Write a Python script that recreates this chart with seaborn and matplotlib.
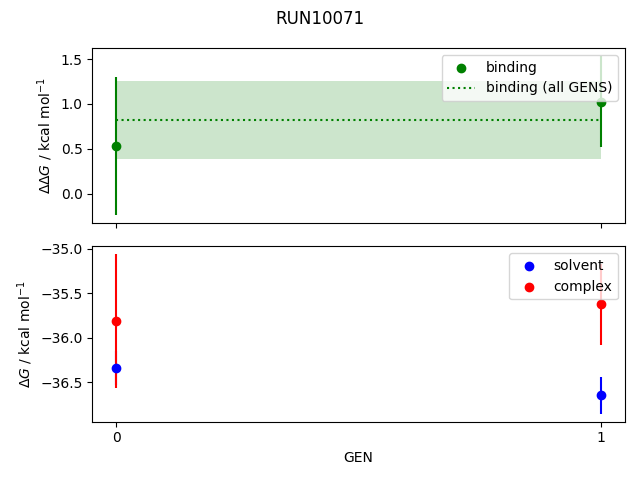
import numpy as np
import pandas as pd
import seaborn as sns
import matplotlib
matplotlib.use("Agg")
import matplotlib.pyplot as plt

# values
gens = [0, 1]
solvent = [-36.333, -36.644]
solvent_err = [0.19, 0.207]
complex_ = [-35.811, -35.622]
complex_err = [0.747, 0.456]
binding = [0.527, 1.025]
binding_err = [0.77, 0.51]
binding_all = 0.822
binding_all_err = 0.435

df = pd.DataFrame({"GEN": gens, "solvent": solvent, "complex": complex_,
                   "binding": binding})

fig, (ax1, ax2) = plt.subplots(2, 1, sharex=True, figsize=(6.4, 4.8), dpi=100)
fig.suptitle("RUN10071")

# top panel: binding free energy
ax1.errorbar(df["GEN"], df["binding"], yerr=binding_err, fmt="none", ecolor="green")
sns.scatterplot(data=df, x="GEN", y="binding", color="green", s=36,
                linewidth=1, edgecolor="green", label="binding", ax=ax1, zorder=3)
ax1.hlines(binding_all, gens[0], gens[-1], color="green", linestyle=":",
           label="binding (all GENS)")
ax1.fill_between(gens, binding_all - binding_all_err, binding_all + binding_all_err,
                 color="green", alpha=0.2, linewidth=0)
ax1.set_ylabel(r"$\Delta\Delta G$ / kcal mol$^{-1}$")
ax1.set_xlabel("")
ax1.legend(loc="upper right")

# bottom panel: solvent and complex legs
ax2.errorbar(df["GEN"], df["solvent"], yerr=solvent_err, fmt="none", ecolor="blue")
ax2.errorbar(df["GEN"], df["complex"], yerr=complex_err, fmt="none", ecolor="red")
sns.scatterplot(data=df, x="GEN", y="solvent", color="blue", s=36,
                linewidth=1, edgecolor="blue", label="solvent", ax=ax2, zorder=3)
sns.scatterplot(data=df, x="GEN", y="complex", color="red", s=36,
                linewidth=1, edgecolor="red", label="complex", ax=ax2, zorder=3)
ax2.set_ylabel(r"$\Delta G$ / kcal mol$^{-1}$")
ax2.set_xlabel("GEN")
ax2.set_xticks(gens)
ax2.legend(loc="upper right")

fig.tight_layout()
fig.savefig("out.png")
